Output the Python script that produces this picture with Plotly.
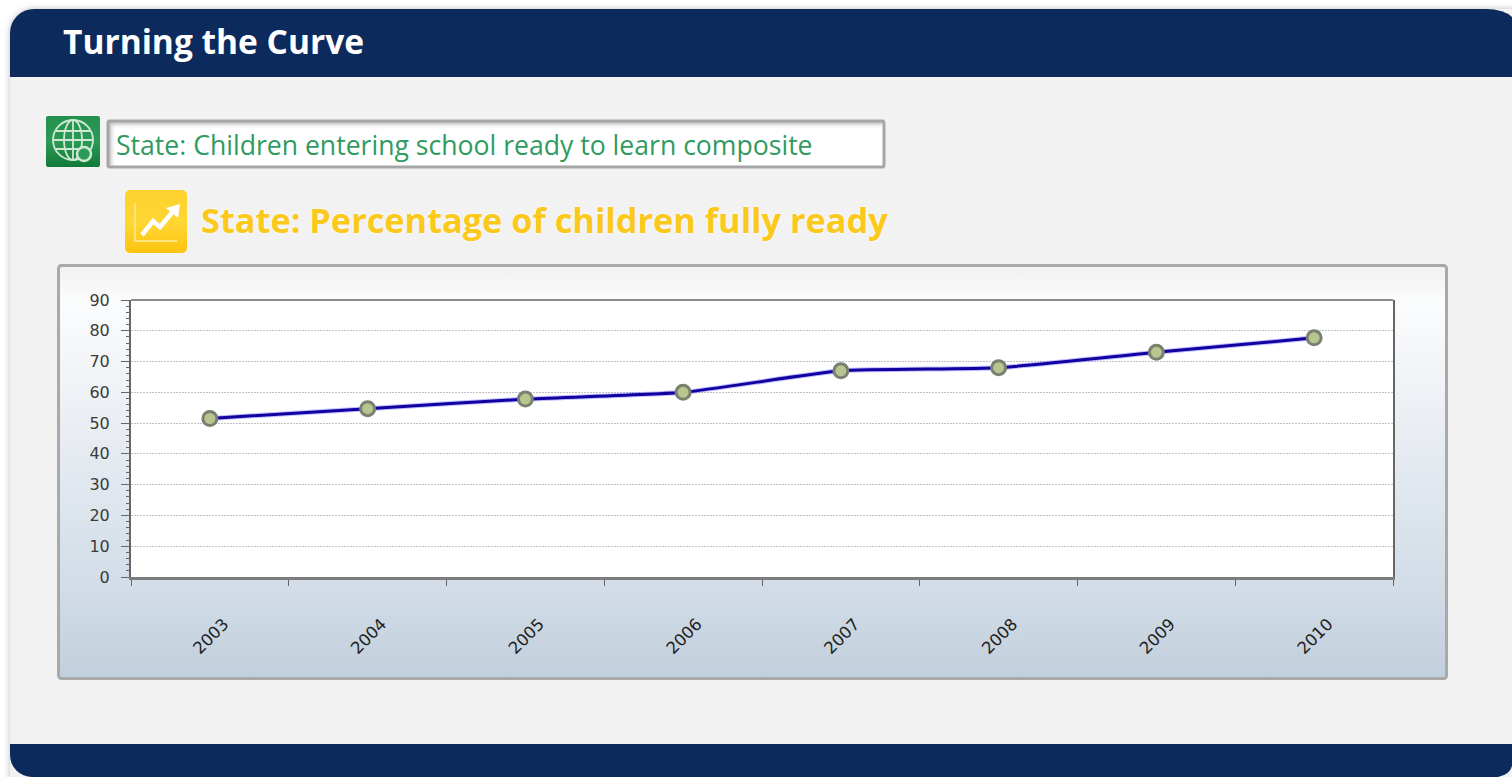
import base64
import plotly.graph_objects as go

years = ["2003", "2004", "2005", "2006", "2007", "2008", "2009", "2010"]
percent_ready = [51.5, 54.7, 57.8, 60, 67, 68, 73, 77.7]
y_ticks = [0, 10, 20, 30, 40, 50, 60, 70, 80, 90]

W, H = 1512, 777
PL, PR, PT, PB = 131, 1393, 300, 577

svg = f'''<svg xmlns="http://www.w3.org/2000/svg" width="{W}" height="{H}" viewBox="0 0 {W} {H}">
<defs>
<linearGradient id="panel" x1="0" y1="0" x2="0" y2="1">
<stop offset="0" stop-color="#f1f1f1"/><stop offset="0.09" stop-color="#fbfcfd"/>
<stop offset="0.45" stop-color="#e6ebf1"/><stop offset="0.75" stop-color="#d3dee8"/><stop offset="1" stop-color="#c2cfdc"/>
</linearGradient>
<linearGradient id="green" x1="0" y1="0" x2="0" y2="1"><stop offset="0" stop-color="#25914e"/><stop offset="0.5" stop-color="#2a9a55"/><stop offset="1" stop-color="#127a38"/></linearGradient>
<linearGradient id="yellow" x1="0" y1="0" x2="0" y2="1"><stop offset="0" stop-color="#fdd22e"/><stop offset="0.55" stop-color="#ffd633"/><stop offset="1" stop-color="#fcc30e"/></linearGradient>
<filter id="soft" x="-5%" y="-5%" width="110%" height="110%"><feGaussianBlur stdDeviation="3"/></filter>
<filter id="soft2" x="-5%" y="-20%" width="110%" height="140%"><feGaussianBlur stdDeviation="2"/></filter>
<clipPath id="box"><rect x="108" y="121" width="776" height="46"/></clipPath>
</defs>
<rect width="{W}" height="{H}" fill="#ffffff"/>
<rect x="10" y="9" width="1540" height="800" rx="24" fill="#bdbdbd" filter="url(#soft)"/>
<rect x="10" y="9" width="1540" height="800" rx="24" fill="#f2f2f2"/>
<path d="M10 77 V33 A24 24 0 0 1 34 9 H1486 A30 14 0 0 1 1512 17 V77 Z" fill="#0c2a5b"/>
<path d="M10 744 H1512 V766 A20 14 0 0 1 1498 777 H32 A22 22 0 0 1 10 755 Z" fill="#0c2a5b"/>
<rect x="108" y="121" width="776" height="46" fill="#ffffff"/>
<g clip-path="url(#box)"><path d="M108 167 V121 H884" fill="none" stroke="#b5b5b5" stroke-width="6" filter="url(#soft2)"/></g>
<rect x="108" y="121" width="776" height="46" fill="none" stroke="#a6a6a6" stroke-width="3" rx="2"/>
<rect x="58.5" y="265.5" width="1388" height="413" rx="3" fill="url(#panel)" stroke="#a9a9a9" stroke-width="3"/>
<rect x="{PL}" y="{PT}" width="{PR-PL}" height="{PB-PT}" fill="#ffffff"/>
<rect x="46" y="116" width="54" height="51" rx="2" fill="url(#green)"/>
<g fill="none" stroke="#cfe8d3" stroke-width="1.8">
<circle cx="73" cy="140" r="20"/><ellipse cx="73" cy="140" rx="9" ry="20"/><line x1="73" y1="120" x2="73" y2="160"/>
<line x1="56" y1="131" x2="90" y2="131"/><line x1="53" y1="140" x2="93" y2="140"/><line x1="56" y1="149" x2="90" y2="149"/>
</g>
<circle cx="84" cy="154" r="7" fill="#2c9b55" stroke="#cfe8d3" stroke-width="2.5"/>
<rect x="125" y="190" width="62" height="63" rx="5" fill="url(#yellow)"/>
<path d="M135 203 V241 H177" fill="none" stroke="#ffe680" stroke-width="1.8"/>
<path d="M142 235 L153 221 L160 227 L175 209" fill="none" stroke="#ffffff" stroke-width="4.5"/>
<path d="M166 208 L180 204 L178 218 Z" fill="#ffffff"/>
<path d="M{PL} {PT} H{PR}" stroke="#666666" stroke-width="1.5" fill="none"/>
</svg>'''
bg_uri = "data:image/svg+xml;base64," + base64.b64encode(svg.encode()).decode()

fig = go.Figure()
fig.add_trace(go.Scatter(
    x=years, y=percent_ready, mode="lines",
    line=dict(color="rgba(70,70,255,0.35)", width=5, shape="spline", smoothing=0.5),
    hoverinfo="skip", showlegend=False,
))
fig.add_trace(go.Scatter(
    x=years, y=percent_ready, mode="lines+markers",
    line=dict(color="#12009f", width=3, shape="spline", smoothing=0.5),
    marker=dict(size=14, color="#b7c58f", line=dict(color="#7a8070", width=3)),
    hoverinfo="x+y", showlegend=False,
))

pw, ph = PR - PL, PB - PT
fig.add_layout_image(dict(
    source=bg_uri, xref="paper", yref="paper", layer="below",
    x=-PL / pw, y=1 + PT / ph, sizex=W / pw, sizey=H / ph,
    xanchor="left", yanchor="top", sizing="stretch",
))

def label(text, x, y, size, color, weight=400, shadow=None):
    font = dict(family="'Open Sans', sans-serif", size=size, color=color, weight=weight)
    if shadow:
        font["shadow"] = shadow
    fig.add_annotation(text=text, xref="paper", yref="paper", showarrow=False,
                       x=(x - PL) / pw, y=(PB - y) / ph, xanchor="left", yanchor="middle",
                       font=font)

label("Turning the Curve", 61, 41, 33.5, "#ffffff", weight=700)
label("State: Children entering school ready to learn composite", 114, 145, 26.6, "#2f9b60")
label("State: Percentage of children fully ready", 199, 220, 34.3, "#fbc81c", weight=700,
      shadow="0 0 3px #ffffff")

fig.update_xaxes(
    type="category", categoryorder="array", categoryarray=years,
    range=[-0.5, 7.5], tickson="boundaries", ticks="outside", ticklen=6, tickwidth=1, tickcolor="#666666",
    tickangle=-45, ticklabelstandoff=28, ticklabelshift=14,
    tickfont=dict(family="DejaVu Sans", size=16.5, color="#222222"),
    showline=True, linecolor="#7c7c7c", linewidth=3, showgrid=False, zeroline=False,
)
fig.update_yaxes(
    range=[0, 90], tickvals=y_ticks, ticks="outside", ticklen=8, tickwidth=1, tickcolor="#666666",
    tickfont=dict(family="DejaVu Sans", size=16, color="#3a3a3a"), ticklabelstandoff=8,
    showline=True, linecolor="#666666", linewidth=2, mirror=True,
    showgrid=True, gridcolor="#c2c2c2", gridwidth=1, griddash="2px,1px", zeroline=False,
    minor=dict(dtick=2, ticks="outside", ticklen=3, tickcolor="#666666", showgrid=False),
)
fig.update_layout(
    width=W, height=H, margin=dict(l=PL, r=W - PR, t=PT, b=H - PB, autoexpand=False),
    paper_bgcolor="#ffffff", plot_bgcolor="rgba(0,0,0,0)",
)
fig.write_html("out.html", config={"displayModeBar": False},
               post_script="document.body.style.margin='0';document.body.style.overflow='hidden';")
